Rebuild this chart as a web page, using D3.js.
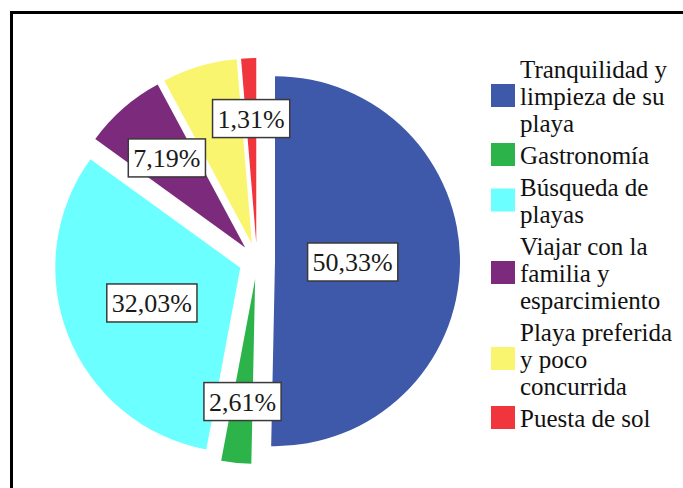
<!DOCTYPE html>
<html>
<head>
<meta charset="utf-8">
<script src="https://cdn.jsdelivr.net/npm/d3@7"></script>
<style>
  body { margin: 0; background: #fff; }
  svg { display: block; }
  svg text { font-family: "Liberation Serif", "DejaVu Serif", "Times New Roman", serif; }
</style>
</head>
<body>
<svg id="chart" width="683" height="488"></svg>
<script>
// data
var categories = [
    ["Tranquilidad y", "limpieza de su", "playa"],
    ["Gastronomía"],
    ["Búsqueda de", "playas"],
    ["Viajar con la", "familia y", "esparcimiento"],
    ["Playa preferida", "y poco", "concurrida"],
    ["Puesta de sol"]
];
var values = [50.33, 2.61, 32.03, 7.19, 6.53, 1.31];
var labels = ["50,33%", "2,61%", "32,03%", "7,19%", null, "1,31%"];
var colors = ["#3f59aa", "#2cb44b", "#6cffff", "#7b2a7c", "#f9f56f", "#f0353c"];

(function () {
    var svg = d3.select("#chart");
    var cx = 257, cy = 261, radius = 185, explode = 18;

    // outer frame
    svg.append("rect")
        .attr("x", 11.5).attr("y", 12.5)
        .attr("width", 720).attr("height", 520)
        .attr("fill", "none")
        .attr("stroke", "#000")
        .attr("stroke-width", 3);

    var pie = d3.pie().sort(null).value(function (d) { return d; });
    var arcs = pie(values);
    var arc = d3.arc().innerRadius(0).outerRadius(radius);

    // label distance from apex shrinks for the big slices
    var labelPos = d3.scaleLinear().domain([0, 50.33]).range([0.68, 0.42]);

    function shift(d) {
        var a = (d.startAngle + d.endAngle) / 2;
        return [explode * Math.sin(a), -explode * Math.cos(a)];
    }

    var g = svg.append("g").attr("transform", "translate(" + cx + "," + cy + ")");

    g.selectAll("path")
        .data(arcs)
        .enter().append("path")
        .attr("d", arc)
        .attr("fill", function (d, i) { return colors[i]; })
        .attr("transform", function (d) {
            var s = shift(d);
            return "translate(" + s[0] + "," + s[1] + ")";
        });

    var lab = g.selectAll("g.lab")
        .data(arcs.filter(function (d, i) { return labels[i]; }))
        .enter().append("g")
        .attr("class", "lab")
        .attr("transform", function (d) {
            var s = shift(d);
            var lr = labelPos(d.value) * radius;
            var c = d3.arc().innerRadius(lr).outerRadius(lr).centroid(d);
            return "translate(" + (s[0] + c[0]) + "," + (s[1] + c[1]) + ")";
        });

    lab.append("rect");
    lab.append("text")
        .attr("text-anchor", "middle")
        .attr("dy", "0.35em")
        .attr("font-size", 26)
        .attr("fill", "#1a1a1a")
        .text(function (d) { return labels[d.index]; });

    lab.each(function () {
        var w = d3.select(this).select("text").node().getBBox().width;
        d3.select(this).select("rect")
            .attr("x", -w / 2 - 5).attr("y", -19)
            .attr("width", w + 10).attr("height", 38)
            .attr("fill", "#fff")
            .attr("stroke", "#3a3a3a")
            .attr("stroke-width", 1.5);
    });

    // legend
    var lineH = 27, gap = 5, top = 58;
    var legend = svg.append("g")
        .attr("font-size", 25)
        .attr("fill", "#111");

    var y = top;
    categories.forEach(function (lines, i) {
        var h = lines.length * lineH;
        legend.append("rect")
            .attr("x", 491).attr("y", y + h / 2 - 3 - 11.5)
            .attr("width", 24).attr("height", 23)
            .attr("fill", colors[i]);
        lines.forEach(function (t, k) {
            legend.append("text")
                .attr("x", 520)
                .attr("y", y + 20 + k * lineH)
                .text(t);
        });
        y += h + gap;
    });
})();
</script>
</body>
</html>
